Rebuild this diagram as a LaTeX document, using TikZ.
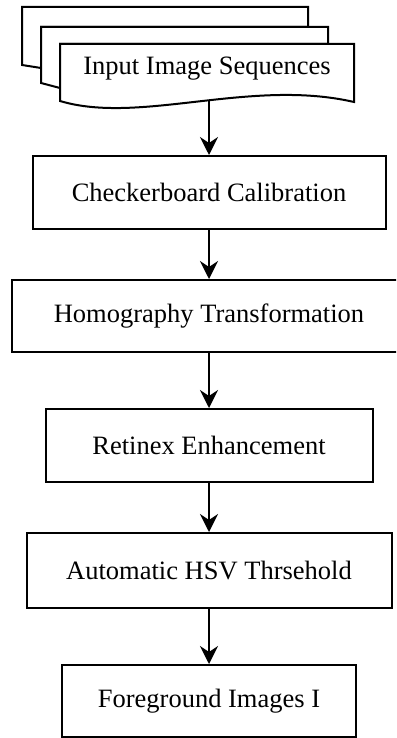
\documentclass[tikz,border=0pt]{standalone}
\usepackage{fontspec}
\setmainfont{Liberation Serif}
\usetikzlibrary{arrows.meta}
\begin{document}
\begin{tikzpicture}[x=1pt,y=-1pt,
  line width=2pt,
  stepbox/.style={draw,fill=white,rectangle,inner sep=0pt,font=\fontsize{26.5}{30}\selectfont},
  sheet/.style={draw,fill=white,line join=miter},
  flow/.style={-{Stealth[length=18pt,width=18pt,inset=6pt]}}]
\clip (0,0) rectangle (396,738);
\useasboundingbox (0,0) rectangle (396,738);
\fill[white] (0,0) rectangle (396,738);
% stacked document sheets
\draw[sheet] (22,65) -- (22,7) -- (308,7) -- (308,27) -- (41,27) -- (41,68) -- cycle;
\draw[sheet] (41,83) -- (41,27) -- (328,27) -- (328,44) -- (60,44) -- (60,88) -- cycle;
\draw[sheet] (60,101) -- (60,44) -- (354,44) -- (354,102)
  .. controls (250,78) and (140,125) .. (60,101) -- cycle;
\node[font=\fontsize{26.5}{30}\selectfont] (input) at (207,69) {Input Image Sequences};
\coordinate (wave) at (209,101);
% boxes
\node[stepbox,minimum width=353pt,minimum height=73pt] (cal) at (209,192.5) {Checkerboard Calibration};
\node[stepbox,minimum width=394pt,minimum height=72pt] (hom) at (209,316) {Homography Transformation};
\node[stepbox,minimum width=327pt,minimum height=73pt] (ret) at (209,445.5) {Retinex Enhancement};
\node[stepbox,minimum width=365pt,minimum height=75pt] (hsv) at (209,570.5) {Automatic HSV Thrsehold};
\node[stepbox,minimum width=294pt,minimum height=72pt] (fg) at (209,701) {Foreground Images I};
% arrows
\draw[flow] (wave) -- (cal.north);
\draw[flow] (cal.south) -- (hom.north);
\draw[flow] (hom.south) -- (ret.north);
\draw[flow] (ret.south) -- (hsv.north);
\draw[flow] (hsv.south) -- (fg.north);
\end{tikzpicture}
\end{document}
